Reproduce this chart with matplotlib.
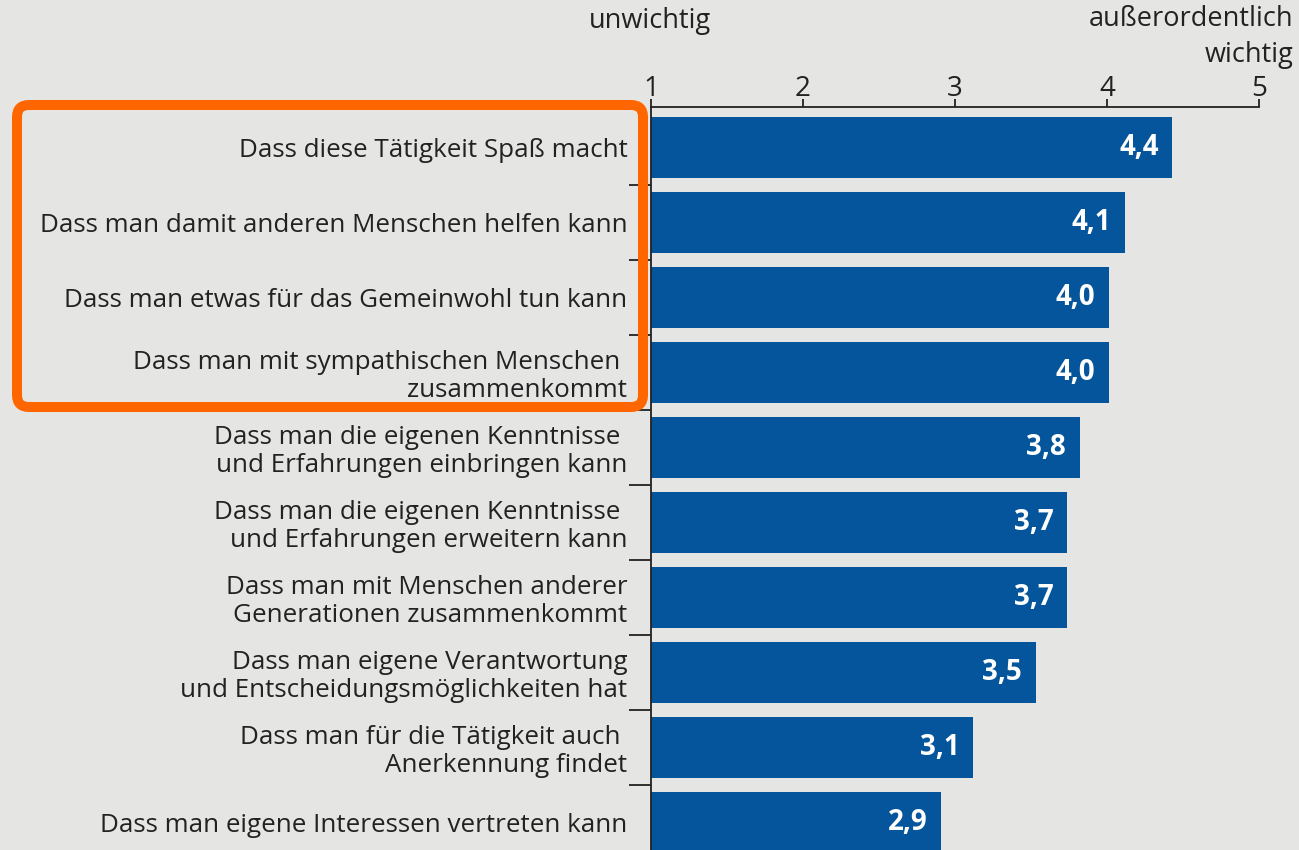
import matplotlib
matplotlib.use('Agg')
import matplotlib.pyplot as plt
from matplotlib.patches import FancyBboxPatch
from matplotlib.transforms import IdentityTransform

labels = [
    "Dass diese Tätigkeit Spaß macht",
    "Dass man damit anderen Menschen helfen kann",
    "Dass man etwas für das Gemeinwohl tun kann",
    "Dass man mit sympathischen Menschen \nzusammenkommt",
    "Dass man die eigenen Kenntnisse \nund Erfahrungen einbringen kann",
    "Dass man die eigenen Kenntnisse \nund Erfahrungen erweitern kann",
    "Dass man mit Menschen anderer\nGenerationen zusammenkommt",
    "Dass man eigene Verantwortung\nund Entscheidungsmöglichkeiten hat",
    "Dass man für die Tätigkeit auch \nAnerkennung findet",
    "Dass man eigene Interessen vertreten kann",
]
values = [4.43, 4.12, 4.01, 4.01, 3.82, 3.74, 3.74, 3.53, 3.12, 2.91]
value_text = ["4,4", "4,1", "4,0", "4,0", "3,8", "3,7", "3,7", "3,5", "3,1", "2,9"]
xticks = [1, 2, 3, 4, 5]

bg = "#e5e5e4"
blue = "#04559b"
dark = "#222222"

plt.rcParams['font.family'] = ['Open Sans', 'DejaVu Sans']

fig = plt.figure(figsize=(12.99, 8.5), dpi=100, facecolor=bg)
ax = fig.add_axes([651 / 1299, 0, (1259 - 651) / 1299, 1 - 107 / 850])
ax.set_facecolor(bg)

y = list(range(len(labels)))
ax.barh(y, [v - 1 for v in values], left=1, height=0.81, color=blue)
for yi, v, t in zip(y, values, value_text):
    ax.text(v - 0.09, yi, t, ha='right', va='center', color='white',
            fontsize=20, fontweight='bold')

ax.set_xlim(1, 5)
ax.set_ylim(9.37, -0.54)
ax.xaxis.tick_top()
ax.set_xticks(xticks)
ax.set_xticklabels([str(t) for t in xticks], fontsize=20, color=dark)
ax.tick_params(axis='x', direction='out', length=6, width=1.3, color=dark, pad=-3)

ax.set_yticks(y)
ax.set_yticklabels(labels, fontsize=18.7, color=dark, linespacing=1.15)
ax.set_yticks([i + 0.5 for i in y[:-1]], minor=True)
ax.tick_params(axis='y', which='major', length=0, pad=17)
ax.tick_params(axis='y', which='minor', length=16, width=1.3, color=dark)

for s in ['right', 'bottom']:
    ax.spines[s].set_visible(False)
for s in ['top', 'left']:
    ax.spines[s].set_color(dark)
    ax.spines[s].set_linewidth(1.3)

fig.text(650 / 1299, 1 - 21 / 850, "unwichtig", ha='center', va='center',
         fontsize=19.5, color=dark)
fig.text(1293 / 1299, 1 - 37 / 850, "außerordentlich\nwichtig", ha='right',
         va='center', fontsize=19.5, color=dark, multialignment='right',
         linespacing=1.4)

box = FancyBboxPatch((17, 850 - 407), 626, 302,
                     boxstyle="round,pad=0,rounding_size=12",
                     transform=IdentityTransform(), fill=False,
                     edgecolor="#ff6600", linewidth=7.2)
fig.add_artist(box)

fig.savefig("out.png", dpi=100, facecolor=bg)
